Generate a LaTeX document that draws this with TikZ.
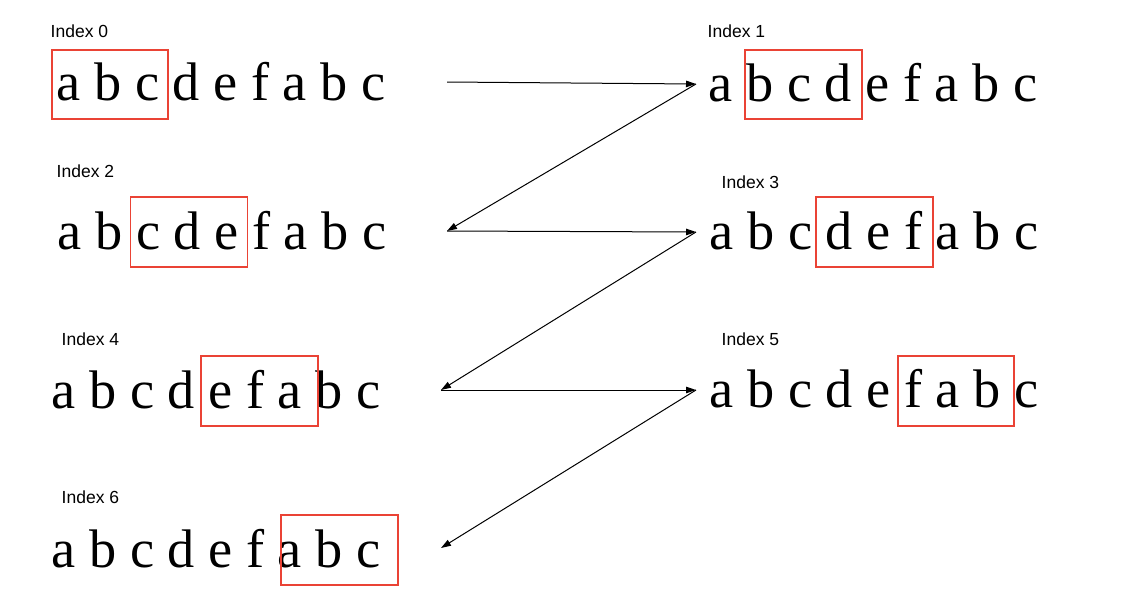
\documentclass[tikz,border=0pt]{standalone}
\usepackage{fontspec}
\setmainfont{Liberation Serif}
\newfontfamily\labelfont{Liberation Sans}
\usetikzlibrary{arrows.meta}
\definecolor{boxred}{RGB}{234,67,53}
\tikzset{
  seq/.style={anchor=base west, inner sep=0pt, font=\fontsize{54.3}{60}\selectfont},
  idx/.style={anchor=base west, inner sep=0pt, font=\labelfont\fontsize{17.5}{20}\selectfont},
  win/.style={draw=boxred, line width=1.5pt, inner sep=0pt, anchor=north west},
  link/.style={line width=1pt, -{Triangle[length=10pt,width=6.5pt]}}
}
\begin{document}
\begin{tikzpicture}[x=1pt,y=-1pt]
\useasboundingbox (0,0) rectangle (1121,611);
% labels
\node[idx] (l0) at (50.5,37) {Index 0};
\node[idx] (l1) at (707.5,37) {Index 1};
\node[idx] (l2) at (56.5,177) {Index 2};
\node[idx] (l3) at (721.5,188) {Index 3};
\node[idx] (l4) at (61.5,345) {Index 4};
\node[idx] (l5) at (721.5,345) {Index 5};
\node[idx] (l6) at (61.5,503) {Index 6};
% sequences
\node[seq] (r0) at (56.5,100) {a b c d e f a b c};
\node[seq] (r1) at (708.5,101) {a b c d e f a b c};
\node[seq] (r2) at (57.5,249) {a b c d e f a b c};
\node[seq] (r3) at (709.5,249) {a b c d e f a b c};
\node[seq] (r4) at (51.5,408) {a b c d e f a b c};
\node[seq] (r5) at (709.5,407) {a b c d e f a b c};
\node[seq] (r6) at (51.5,567) {a b c d e f a b c};
% windows
\node[win, minimum width=116pt, minimum height=69pt] (b0) at (51,49) {};
\node[win, minimum width=117pt, minimum height=69pt] (b1) at (744,49) {};
\node[win, minimum width=117pt, minimum height=70pt] (b2) at (129.5,196) {};
\node[win, minimum width=117pt, minimum height=70pt] (b3) at (815,196) {};
\node[win, minimum width=117pt, minimum height=70pt] (b4) at (200,355) {};
\node[win, minimum width=116pt, minimum height=70pt] (b5) at (897,355) {};
\node[win, minimum width=117pt, minimum height=70pt] (b6) at (280,514) {};
% arrow points
\coordinate (p0) at (447,82);
\coordinate (p1) at (696,84);
\coordinate (p2) at (447,231);
\coordinate (p3) at (696,232);
\coordinate (p4) at (441,390);
\coordinate (p5) at (696,390);
\coordinate (p6) at (441,548);
\draw[link] (p0) -- (p1);
\draw[link] (p1) -- (p2);
\draw[link] (p2) -- (p3);
\draw[link] (p3) -- (p4);
\draw[link] (p4) -- (p5);
\draw[link] (p5) -- (p6);
\end{tikzpicture}
\end{document}
